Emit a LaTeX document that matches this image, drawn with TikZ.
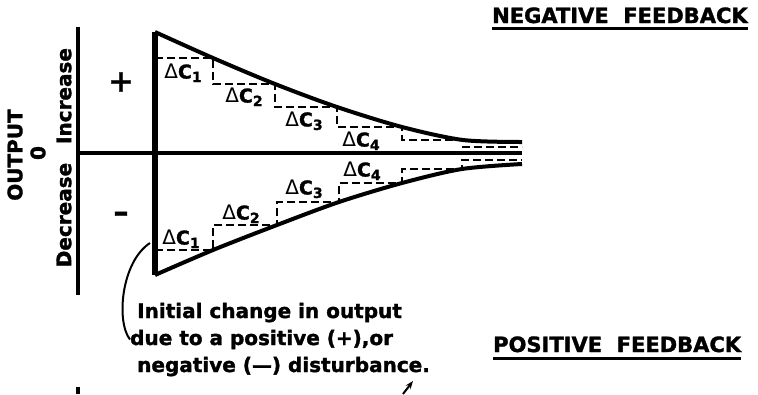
\documentclass[tikz,border=0pt]{standalone}
\usepackage{fontspec}
\setmainfont{DejaVu Sans}[BoldFeatures={FakeBold=1.5}]
\usetikzlibrary{arrows.meta}
\newcommand{\dC}[1]{{\mdseries\fontsize{20}{20}\selectfont Δ}C\raisebox{-3.5pt}{\fontsize{14}{14}\selectfont #1}}
\begin{document}
\begin{tikzpicture}[x=1pt, y=-1pt,
  lbl/.style={font=\fontsize{20}{20}\selectfont\bfseries, inner sep=0pt},
  dc/.style={font=\fontsize{19}{19}\selectfont\bfseries, inner sep=0pt},
  stairs/.style={line width=2.8pt, dash pattern=on 8pt off 4pt},
  curve/.style={line width=4pt, line join=round}]
\useasboundingbox (0,0) rectangle (758,394);
\node[lbl, rotate=90] (out) at (15,155) {OUTPUT};
\node[lbl, rotate=90] (zero) at (38,153) {0};
\node[lbl, rotate=90] (inc) at (64,96) {Increase};
\node[lbl, rotate=90] (dec) at (64,215) {Decrease};
\node[lbl, font=\fontsize{30}{30}\selectfont\bfseries] (plus) at (121,82) {+};
\node[lbl, font=\fontsize{30}{30}\selectfont\bfseries] (minus) at (121,217) {–};
\coordinate (top) at (155,32);
\coordinate (bot) at (155,275);
\draw[line width=3.2pt] (78,27) -- (78,295);
\draw[line width=3.2pt] (78,153) -- (522,153);
\draw[line width=5.5pt] (top) -- (bot);
\draw[curve] plot[smooth] coordinates {(155,32) (213,58) (275,84) (337,107) (402,127) (463,140) (522,142)};
\draw[curve] plot[smooth] coordinates {(155,275) (213,250) (277,225) (339,202) (402,183) (462,169) (522,164)};
\draw[stairs] (155,58) -- (213,58) -- (213,84) -- (275,84) -- (275,107) -- (337,107) -- (337,127) -- (402,127) -- (402,140) -- (463,140) -- (463,147) -- (522,147);
\draw[stairs] (155,250) -- (213,250) -- (213,225) -- (277,225) -- (277,202) -- (339,202) -- (339,183) -- (402,183) -- (402,169) -- (462,169) -- (462,160) -- (522,160);
\node[dc] (u1) at (183,73) {\dC{1}};
\node[dc] (u2) at (244,97) {\dC{2}};
\node[dc] (u3) at (304,121) {\dC{3}};
\node[dc] (u4) at (361,141) {\dC{4}};
\node[dc] (l1) at (181,239) {\dC{1}};
\node[dc] (l2) at (241,214) {\dC{2}};
\node[dc] (l3) at (304,189) {\dC{3}};
\node[dc] (l4) at (362,171) {\dC{4}};
\node[lbl, font=\fontsize{21}{21}\selectfont\bfseries, anchor=base west] (negfb) at (492,23) {NEGATIVE\ \ FEEDBACK};
\draw[line width=2.8pt] ([yshift=-5pt]negfb.south west) -- ([yshift=-5pt]negfb.south east);
\node[lbl, font=\fontsize{21}{21}\selectfont\bfseries, anchor=base west] (posfb) at (493,352) {POSITIVE\ \ FEEDBACK};
\draw[line width=2.8pt] ([yshift=-6pt]posfb.south west) -- ([yshift=-6pt]posfb.south east);
\node[lbl, anchor=base west] (init) at (137,318) {Initial change in output};
\node[lbl, anchor=base west] (due) at (130,345) {due to a positive (+),or};
\node[lbl, anchor=base west] (dist) at (137,372) {negative (—) disturbance.};
\coordinate (lead) at (150,243);
\draw[line width=2pt] (lead) .. controls (121,262) and (116,322) .. (due.west);
\coordinate (tick) at (78,387);
\coordinate (tickend) at (78,394);
\draw[line width=3.2pt] (tick) -- (tickend);
\coordinate (arrtail) at (403,394);
\coordinate (arrtip) at (413,381);
\draw[line width=2pt, -{Stealth[length=8pt]}] (arrtail) -- (arrtip);
\end{tikzpicture}
\end{document}
